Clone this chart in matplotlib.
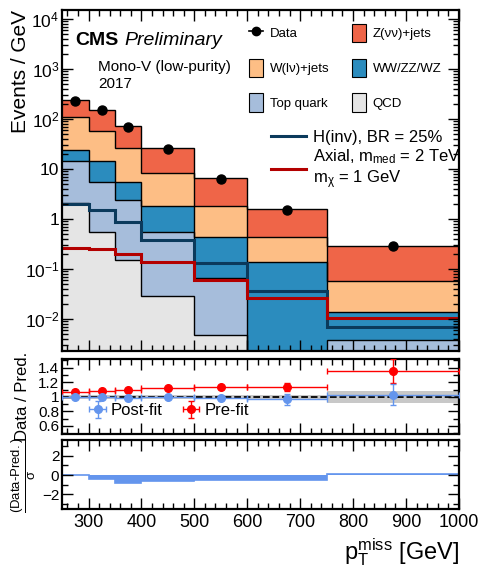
import matplotlib.pyplot as plt
import numpy as np
from matplotlib.patches import Patch
from matplotlib.lines import Line2D
from matplotlib.ticker import MultipleLocator, LogLocator, NullFormatter

# binning in pT miss (GeV)
edges = [250, 300, 350, 400, 500, 600, 750, 1000]
centers = [275, 325, 375, 450, 550, 675, 875]

# per-process yields (events / GeV)
qcd = [2.06, 0.56, 0.151, 0.029, 0.0049, 0.0004, 0.0005]
top = [12.4, 5.04, 2.25, 0.53, 0.062, 0.0006, 0.0034]
vv = [9.5, 8.9, 3.2, 1.26, 0.373, 0.141, 0.0097]
wjets = [84.0, 43.0, 20.4, 6.4, 1.41, 0.288, 0.0454]
zjets = [132.0, 93.5, 46.0, 17.8, 4.65, 1.15, 0.229]

data = [235.0, 150.0, 71.0, 25.5, 6.4, 1.55, 0.29]
data_err = [2.2, 1.7, 1.2, 0.5, 0.25, 0.08, 0.034]

# signals
hinv = [2.0, 1.51, 0.87, 0.38, 0.13, 0.036, 0.0070]
axial = [0.26, 0.25, 0.205, 0.136, 0.06, 0.027, 0.0107]

# ratio panel
postfit = [1.0, 1.0, 0.99, 0.995, 0.985, 0.97, 1.03]
postfit_err = [0.01, 0.012, 0.015, 0.015, 0.025, 0.076, 0.14]
prefit = [1.06, 1.083, 1.097, 1.116, 1.13, 1.14, 1.355]
prefit_err = [0.012, 0.014, 0.018, 0.02, 0.025, 0.055, 0.17]
band = [0.025, 0.025, 0.025, 0.025, 0.025, 0.03, 0.085]

# pulls
pulls = [0.02, -0.45, -0.78, -0.62, -0.55, -0.55, 0.15]

c_z = '#ef6548'
c_w = '#fdbe85'
c_vv = '#2b8cbe'
c_top = '#a6bddb'
c_qcd = '#e5e5e5'
c_hinv = '#0b3a5c'
c_axial = '#b30000'
c_post = '#6495ed'
c_pre = '#ff0000'

plt.rcParams['font.family'] = ['Liberation Sans', 'DejaVu Sans']
plt.rcParams['mathtext.fontset'] = 'custom'
plt.rcParams['mathtext.rm'] = 'Liberation Sans'
plt.rcParams['mathtext.it'] = 'Liberation Sans:italic'

fig = plt.figure(figsize=(4.81, 5.70), dpi=100)
ax = fig.add_axes([0.129, 0.384, 0.825, 0.598])
axr = fig.add_axes([0.129, 0.2386, 0.825, 0.1316])
axp = fig.add_axes([0.129, 0.107, 0.825, 0.121])

edges = np.array(edges)
widths = np.diff(edges) / 2.0

# stacked histograms
layers = [qcd, top, vv, wjets, zjets]
colors = [c_qcd, c_top, c_vv, c_w, c_z]
base = np.full(len(qcd), 1e-5)
cum = base.copy()
for vals, col in zip(layers, colors):
    newcum = cum + np.array(vals)
    ax.stairs(newcum, edges, baseline=cum, fill=True, color=col, lw=0)
    cum = newcum
cum = base.copy()
for vals in layers:
    cum = cum + np.array(vals)
    ax.stairs(cum, edges, baseline=None, color='black', lw=1.0)

ax.stairs(hinv, edges, baseline=None, color=c_hinv, lw=2.2)
ax.stairs(axial, edges, baseline=None, color=c_axial, lw=2.2)

ax.errorbar(centers, data, yerr=data_err, fmt='o', color='black', ms=6.5, lw=1.2, zorder=5)

ax.set_yscale('log')
ax.set_ylim(2.3e-3, 1.5e4)
ax.set_xlim(250, 1000)
ax.set_yticks([1e-2, 1e-1, 1, 10, 1e2, 1e3, 1e4])
ax.set_yticklabels(['$10^{-2}$', '$10^{-1}$', '1', '10', '$10^{2}$', '$10^{3}$', '$10^{4}$'])
ax.yaxis.set_minor_locator(LogLocator(base=10, subs=np.arange(2, 10), numticks=20))
ax.yaxis.set_minor_formatter(NullFormatter())
ax.set_ylabel('Events / GeV', fontsize=15, loc='top')
ax.yaxis.set_label_coords(-0.082, 1.0)

for a in (ax, axr, axp):
    a.set_xlim(250, 1000)
    a.xaxis.set_major_locator(MultipleLocator(100))
    a.xaxis.set_minor_locator(MultipleLocator(20))
    a.tick_params(which='both', direction='in', top=True, right=True, labelsize=13)
    a.tick_params(which='major', length=8, width=1)
    a.tick_params(which='minor', length=4, width=1)
    a.tick_params(axis='y', pad=2)
    for s in a.spines.values():
        s.set_linewidth(1.6)
ax.tick_params(axis='y', labelsize=12.5)
ax.tick_params(labelbottom=False)
axr.tick_params(labelbottom=False)

ax.text(0.033, 0.912, 'CMS', transform=ax.transAxes, fontsize=14, fontweight='bold', va='center')
ax.text(0.158, 0.912, 'Preliminary', transform=ax.transAxes, fontsize=14, style='italic', va='center')
ax.text(0.09, 0.833, 'Mono-V (low-purity)', transform=ax.transAxes, fontsize=11, va='center')
ax.text(0.09, 0.784, '2017', transform=ax.transAxes, fontsize=11, va='center')

# legends
h_data = Line2D([], [], marker='o', color='black', ms=6, lw=1.2)
h_z = Patch(facecolor=c_z, edgecolor='black', lw=0.8)
h_w = Patch(facecolor=c_w, edgecolor='black', lw=0.8)
h_vv = Patch(facecolor=c_vv, edgecolor='black', lw=0.8)
h_top = Patch(facecolor=c_top, edgecolor='black', lw=0.8)
h_qcd = Patch(facecolor=c_qcd, edgecolor='black', lw=0.8)
leg1 = ax.legend([h_data, h_w, h_top, h_z, h_vv, h_qcd],
                 ['Data', 'W(l\u03bd)+jets', 'Top quark', 'Z(\u03bd\u03bd)+jets', 'WW/ZZ/WZ', 'QCD'],
                 ncol=2, loc='upper left', bbox_to_anchor=(0.44, 0.995), frameon=False,
                 fontsize=9.5, handlelength=1.1, handleheight=1.75, labelspacing=1.25,
                 columnspacing=1.7, handletextpad=0.5)
ax.add_artist(leg1)
h_l1 = Line2D([], [], color=c_hinv, lw=2.2)
h_l2 = Line2D([], [], color=c_axial, lw=2.2)
ax.legend([h_l1, h_l2], ['H(inv), BR = 25%', 'Axial, $\\mathregular{m_{med}}$ = 2 TeV\n$\\mathregular{m_{\\chi}}$ = 1 GeV'],
          loc='upper left', bbox_to_anchor=(0.49, 0.692), frameon=False, fontsize=12,
          handlelength=2.1, labelspacing=0.1, handletextpad=0.4)

# ratio panel
band = np.array(band)
axr.stairs(1 + band, edges, baseline=1 - band, fill=True, color='#c8c8c8', lw=0)
axr.axhline(1.0, color='black', ls='--', lw=1.3)
axr.errorbar(centers, prefit, xerr=widths, yerr=prefit_err, fmt='o', color=c_pre, ms=5.5, lw=1.0,
             capsize=2, label='Pre-fit', zorder=4)
axr.errorbar(centers, postfit, xerr=widths, yerr=postfit_err, fmt='o', color=c_post, ms=5.5, lw=1.0,
             capsize=2, label='Post-fit', zorder=5)
axr.set_ylim(0.49, 1.52)
axr.set_yticks([0.6, 0.8, 1.0, 1.2, 1.4])
axr.set_yticklabels(['0.6', '0.8', '1', '1.2', '1.4'])
axr.yaxis.set_minor_locator(MultipleLocator(0.1))
axr.tick_params(axis='y', labelsize=11)
axr.set_ylabel('Data / Pred.', fontsize=12)
axr.yaxis.set_label_coords(-0.08, 0.5)
hs, ls = axr.get_legend_handles_labels()
axr.legend(hs[::-1], ls[::-1], ncol=2, loc='center left', bbox_to_anchor=(0.035, 0.31), frameon=False,
           fontsize=12, handlelength=1.2, handletextpad=0.2, columnspacing=1.1, borderpad=0.2)

# pull panel
axp.stairs(pulls, edges, baseline=0, fill=True, color=c_post, lw=0)
axp.stairs(pulls, edges, baseline=None, color=c_post, lw=1.2)
axp.set_ylim(-3.5, 3.6)
axp.set_yticks([-2, 0, 2])
axp.set_yticklabels(['\u22122', '0', '2'])
axp.yaxis.set_minor_locator(MultipleLocator(1))
axp.tick_params(axis='y', labelsize=11)
axp.set_ylabel('$\\mathregular{\\frac{(Data\\text{-}Pred.)}{\\sigma}}$', fontsize=13.5)
axp.yaxis.set_label_coords(-0.06, 0.5)
axp.set_xlabel('$\\mathregular{p_{T}^{miss}}$ [GeV]', fontsize=17, loc='right')

fig.savefig('out.png', dpi=100)
